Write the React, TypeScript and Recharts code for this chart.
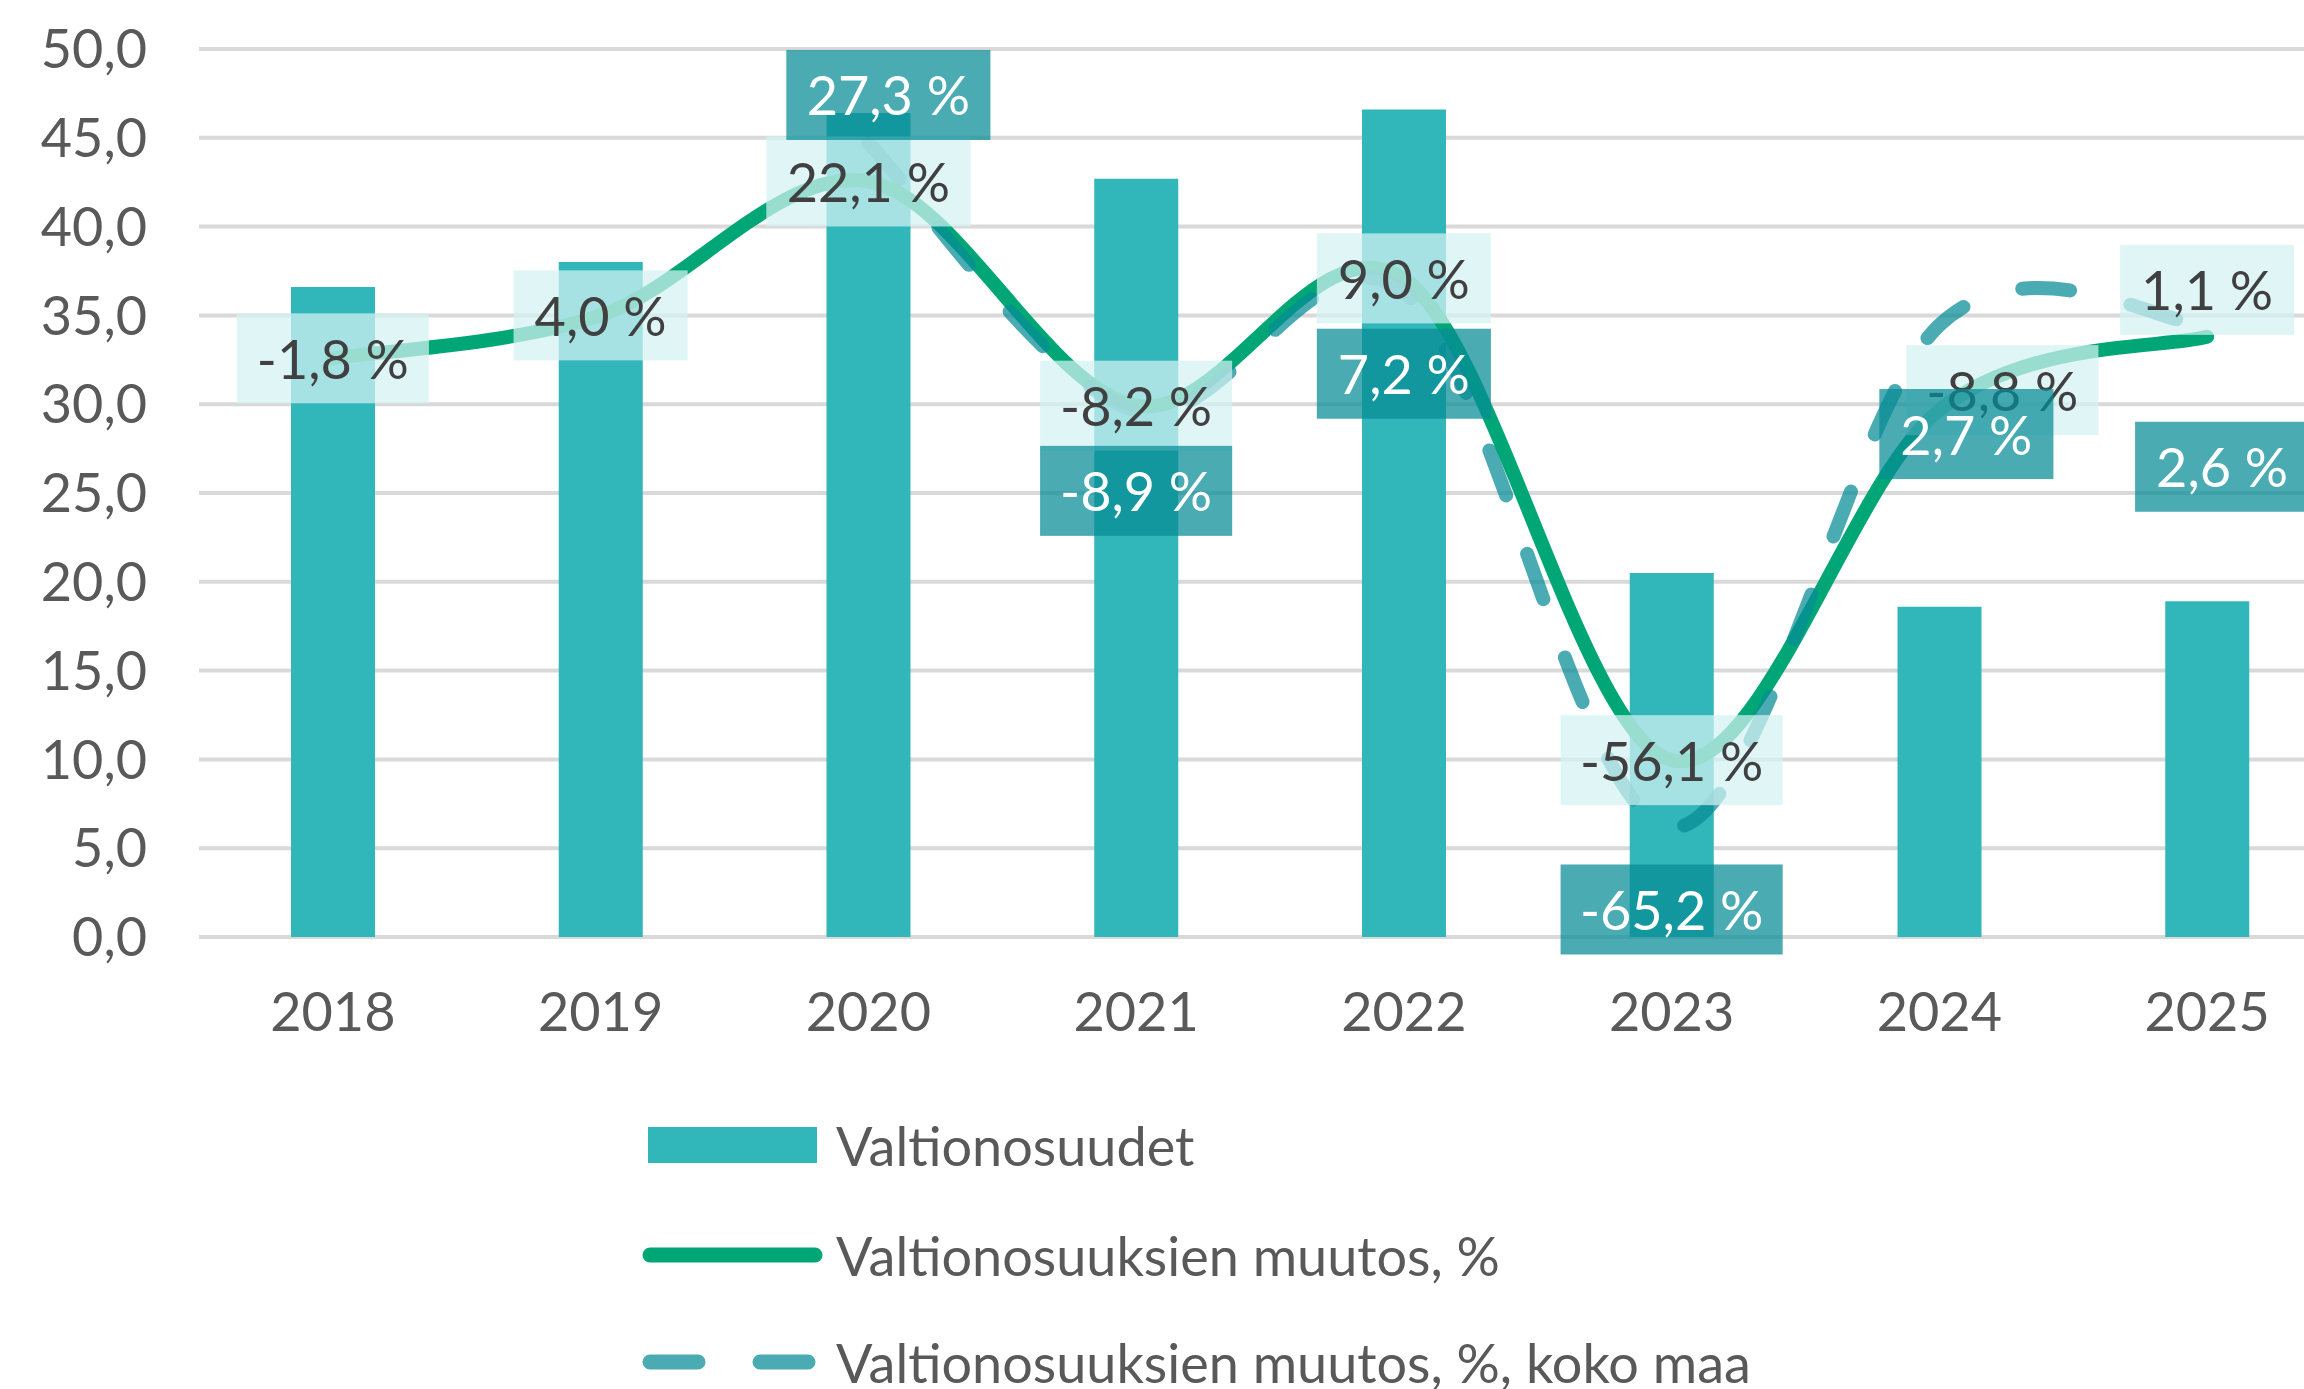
import React from "react";
import { ComposedChart, Bar, Line, XAxis, YAxis, CartesianGrid, LabelList } from "recharts";

const years = ["2018", "2019", "2020", "2021", "2022", "2023", "2024", "2025"];
const valtionosuudet = [36.6, 38.0, 46.4, 42.7, 46.6, 20.5, 18.6, 18.9];
const muutos = [-1.8, 4.0, 22.1, -8.2, 9.0, -56.1, -8.8, 1.1];
const muutosKokoMaa = [null, null, 27.3, -8.9, 7.2, -65.2, 2.7, 2.6];
const leftTicks = [0, 5, 10, 15, 20, 25, 30, 35, 40, 45, 50];

const rows = years.map((year, i) => ({
  year,
  valtionosuudet: valtionosuudet[i],
  muutos: muutos[i],
  kokoMaa: muutosKokoMaa[i],
}));

// label box offsets from the point (px), like the hand-moved Excel labels
const greenShift = [[0, 0], [0, 0], [0, 0], [0, 0], [0, 0], [0, 0], [63, -20], [0, -47]];
const dashedShift = [[0, 0], [0, 0], [20, -48], [0, 80], [0, 82], [0, 82], [27, 109], [15, 141]];

const BAR = "#31B6BA";
const GREEN = "#00A676";
const DARK = "rgb(7,140,149)";
const FONT = "Lato, 'Liberation Sans', sans-serif";
const FS = 54;

const fmt = (v: number) => v.toFixed(1).replace(".", ",") + " %";

const charW: Record<string, number> = { ",": 0.278, "-": 0.333, " ": 0.278, "%": 0.889 };
const textWidth = (s: string) =>
  s.split("").reduce((sum, c) => sum + (charW[c] ?? 0.556), 0) * FS;

// Excel-like smoothed line (Catmull-Rom as cubic beziers)
const excelSmooth = (context: any) => {
  let pts: number[][] = [];
  return {
    areaStart() {},
    areaEnd() {},
    lineStart() {
      pts = [];
    },
    point(x: number, y: number) {
      pts.push([+x, +y]);
    },
    lineEnd() {
      if (!pts.length) return;
      context.moveTo(pts[0][0], pts[0][1]);
      for (let i = 0; i < pts.length - 1; i++) {
        const p0 = pts[Math.max(i - 1, 0)];
        const p1 = pts[i];
        const p2 = pts[i + 1];
        const p3 = pts[Math.min(i + 2, pts.length - 1)];
        context.bezierCurveTo(
          p1[0] + (p2[0] - p0[0]) / 6,
          p1[1] + (p2[1] - p0[1]) / 6,
          p2[0] - (p3[0] - p1[0]) / 6,
          p2[1] - (p3[1] - p1[1]) / 6,
          p2[0],
          p2[1]
        );
      }
    },
  };
};

const makeLabel = (shift: number[][], dark: boolean) => (props: any) => {
  const { x, y, value, index } = props;
  if (value == null || x == null || y == null) return null;
  const s = shift[index] || [0, 0];
  const text = fmt(Number(value));
  const w = textWidth(text) + 36;
  const h = 90;
  const cx = x + s[0];
  const cy = y + s[1];
  return (
    <g>
      <rect
        x={cx - w / 2}
        y={cy - h / 2}
        width={w}
        height={h}
        fill={dark ? DARK : "rgb(212,242,242)"}
        fillOpacity={dark ? 0.73 : 0.72}
      />
      <text
        x={cx}
        y={cy}
        textAnchor="middle"
        dominantBaseline="central"
        fontSize={FS}
        fontFamily={FONT}
        fill={dark ? "#ffffff" : "#404040"}
      >
        {text}
      </text>
    </g>
  );
};

const legendItems = [
  { label: "Valtionosuudet", kind: "bar", y: 1145 },
  { label: "Valtionosuuksien muutos, %", kind: "line", y: 1255 },
  { label: "Valtionosuuksien muutos, %, koko maa", kind: "dash", y: 1362 },
];

export default function App() {
  return (
    <div
      style={{
        position: "fixed",
        left: 0,
        top: 0,
        width: 2304,
        height: 1389,
        overflow: "hidden",
        background: "#fff",
        fontFamily: FONT,
      }}
    >
      <ComposedChart
        width={2345}
        height={1070}
        data={rows}
        margin={{ top: 49, right: 4, bottom: 13, left: 0 }}
      >
        <CartesianGrid vertical={false} stroke="#D9D9D9" strokeWidth={4} />
        <XAxis
          dataKey="year"
          axisLine={false}
          tickLine={false}
          interval={0}
          height={120}
          tickMargin={50}
          tick={{ fontSize: FS, fill: "#595959", fontFamily: FONT }}
        />
        <YAxis
          domain={[0, 50]}
          ticks={leftTicks}
          width={199}
          axisLine={false}
          tickLine={false}
          tickMargin={46}
          tickFormatter={(v: number) => v.toFixed(1).replace(".", ",")}
          tick={{ fontSize: FS, fill: "#595959", fontFamily: FONT }}
        />
        <YAxis yAxisId="pct" orientation="right" hide domain={[-80, 40]} />
        <Bar dataKey="valtionosuudet" fill={BAR} barSize={84} isAnimationActive={false} />
        <Line
          yAxisId="pct"
          dataKey="muutos"
          type={excelSmooth as any}
          stroke={GREEN}
          strokeWidth={14}
          strokeLinecap="round"
          dot={false}
          activeDot={false}
          isAnimationActive={false}
        />
        <Line
          yAxisId="pct"
          dataKey="kokoMaa"
          type={excelSmooth as any}
          stroke={DARK}
          strokeOpacity={0.73}
          strokeWidth={14}
          strokeLinecap="round"
          strokeDasharray="48 62"
          dot={false}
          activeDot={false}
          isAnimationActive={false}
        />
        <Line
          yAxisId="pct"
          dataKey="muutos"
          stroke="none"
          dot={false}
          activeDot={false}
          legendType="none"
          isAnimationActive={false}
        >
          <LabelList dataKey="muutos" content={makeLabel(greenShift, false)} />
        </Line>
        <Line
          yAxisId="pct"
          dataKey="kokoMaa"
          stroke="none"
          dot={false}
          activeDot={false}
          legendType="none"
          isAnimationActive={false}
        >
          <LabelList dataKey="kokoMaa" content={makeLabel(dashedShift, true)} />
        </Line>
      </ComposedChart>
      <svg
        width={2304}
        height={330}
        style={{ position: "absolute", left: 0, top: 1070 }}
        viewBox="0 1070 2304 330"
      >
        {legendItems.map((it) => (
          <g key={it.label}>
            {it.kind === "bar" && <rect x={648} y={it.y - 18} width={169} height={36} fill={BAR} />}
            {it.kind === "line" && (
              <line x1={650} x2={815} y1={it.y} y2={it.y} stroke={GREEN} strokeWidth={15} strokeLinecap="round" />
            )}
            {it.kind === "dash" && (
              <line
                x1={650}
                x2={815}
                y1={it.y}
                y2={it.y}
                stroke={DARK}
                strokeOpacity={0.73}
                strokeWidth={15}
                strokeLinecap="round"
                strokeDasharray="48 62"
              />
            )}
            <text
              x={836}
              y={it.y}
              dominantBaseline="central"
              fontSize={FS}
              fontFamily={FONT}
              fill="#595959"
            >
              {it.label}
            </text>
          </g>
        ))}
      </svg>
    </div>
  );
}
